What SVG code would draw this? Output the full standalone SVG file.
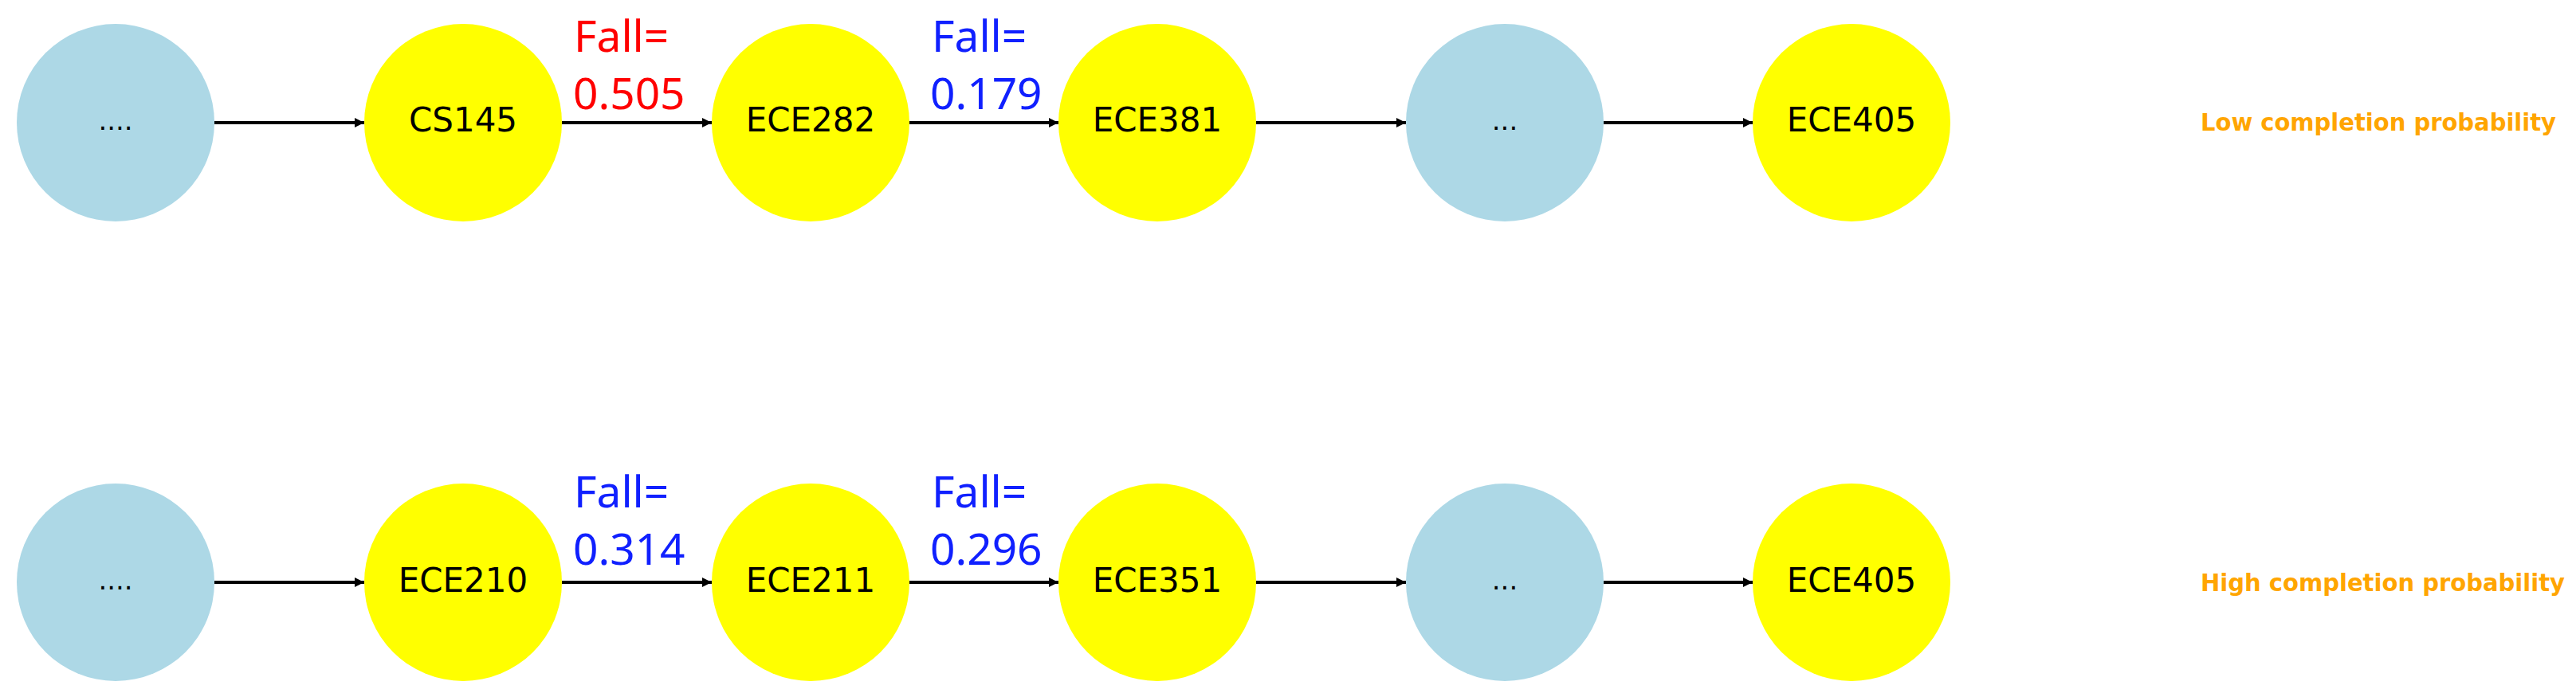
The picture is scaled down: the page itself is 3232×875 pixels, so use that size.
<svg xmlns="http://www.w3.org/2000/svg" width="3232" height="875" viewBox="0 0 3232 875">
<style>
.blue{fill:#ADD8E6}
.yel{fill:#FFFF00}
.nl{font-family:"DejaVu Sans",sans-serif;font-size:42px;fill:#000;text-anchor:middle}
.dots{font-family:"DejaVu Sans",sans-serif;font-size:34px;fill:#000;text-anchor:middle}
.el{font-family:"Noto Sans",sans-serif;font-size:55px}
.red{fill:#FF0000}
.bl{fill:#1020FF}
.side{font-family:"DejaVu Sans",sans-serif;font-weight:bold;font-size:30px;fill:#FFA500}
.edge{stroke:#000;stroke-width:4;fill:none;marker-end:url(#ah)}
</style>
<defs>
<marker id="ah" viewBox="0 0 10 10" refX="10" refY="5" markerWidth="3" markerHeight="3" orient="auto" markerUnits="strokeWidth">
<path d="M0,0 L10,5 L0,10 z" fill="#000"/>
</marker>
</defs>
<rect width="3232" height="875" fill="#fff"/>
<g id="connectors">
<line class="edge" x1="269" y1="154" x2="457" y2="154"/>
<line class="edge" x1="705" y1="154" x2="893" y2="154"/>
<line class="edge" x1="1141" y1="154" x2="1328" y2="154"/>
<line class="edge" x1="1576" y1="154" x2="1764" y2="154"/>
<line class="edge" x1="2012" y1="154" x2="2199" y2="154"/>
<line class="edge" x1="269" y1="731" x2="457" y2="731"/>
<line class="edge" x1="705" y1="731" x2="893" y2="731"/>
<line class="edge" x1="1141" y1="731" x2="1328" y2="731"/>
<line class="edge" x1="1576" y1="731" x2="1764" y2="731"/>
<line class="edge" x1="2012" y1="731" x2="2199" y2="731"/>
</g>
<g id="edge-labels">
<text class="el red" x="720" y="65">Fall=</text>
<text class="el red" x="719" y="137">0.505</text>
<text class="el bl" x="1169" y="65">Fall=</text>
<text class="el bl" x="1167" y="137">0.179</text>
<text class="el bl" x="720" y="637">Fall=</text>
<text class="el bl" x="719" y="709">0.314</text>
<text class="el bl" x="1169" y="637">Fall=</text>
<text class="el bl" x="1167" y="709">0.296</text>
</g>
<g id="n1a"><circle class="blue" cx="145" cy="154" r="124"/><text class="dots" x="145" y="163">....</text></g>
<g id="n1b"><circle class="yel" cx="581" cy="154" r="124"/><text class="nl" x="581" y="165">CS145</text></g>
<g id="n1c"><circle class="yel" cx="1017" cy="154" r="124"/><text class="nl" x="1017" y="165">ECE282</text></g>
<g id="n1d"><circle class="yel" cx="1452" cy="154" r="124"/><text class="nl" x="1452" y="165">ECE381</text></g>
<g id="n1e"><circle class="blue" cx="1888" cy="154" r="124"/><text class="dots" x="1888" y="163">...</text></g>
<g id="n1f"><circle class="yel" cx="2323" cy="154" r="124"/><text class="nl" x="2323" y="165">ECE405</text></g>
<g id="n2a"><circle class="blue" cx="145" cy="731" r="124"/><text class="dots" x="145" y="740">....</text></g>
<g id="n2b"><circle class="yel" cx="581" cy="731" r="124"/><text class="nl" x="581" y="743">ECE210</text></g>
<g id="n2c"><circle class="yel" cx="1017" cy="731" r="124"/><text class="nl" x="1017" y="743">ECE211</text></g>
<g id="n2d"><circle class="yel" cx="1452" cy="731" r="124"/><text class="nl" x="1452" y="743">ECE351</text></g>
<g id="n2e"><circle class="blue" cx="1888" cy="731" r="124"/><text class="dots" x="1888" y="740">...</text></g>
<g id="n2f"><circle class="yel" cx="2323" cy="731" r="124"/><text class="nl" x="2323" y="743">ECE405</text></g>
<g id="side-labels">
<text class="side" x="2761" y="164" textLength="446" lengthAdjust="spacingAndGlyphs">Low completion probability</text>
<text class="side" x="2761" y="742" textLength="457" lengthAdjust="spacingAndGlyphs">High completion probability</text>
</g>
</svg>
